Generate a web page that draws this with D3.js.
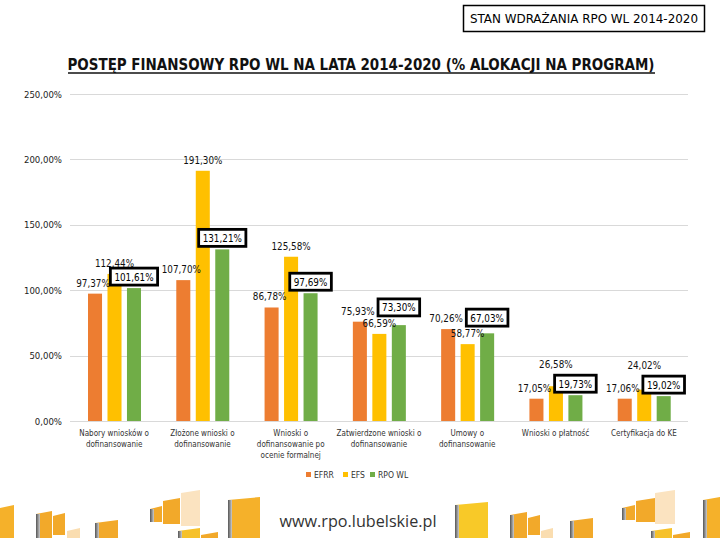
<!DOCTYPE html>
<html><head><meta charset="utf-8">
<script src="https://cdn.jsdelivr.net/npm/d3@7"></script>
<style>
body{margin:0;background:#fff;}
svg{display:block;}
</style></head>
<body>
<svg id="c" width="720" height="540"></svg>
<script>
const categories = [
  ["Nabory wniosków o","dofinansowanie"],
  ["Złożone wnioski o","dofinansowanie"],
  ["Wnioski o","dofinansowanie po","ocenie formalnej"],
  ["Zatwierdzone wnioski o","dofinansowanie"],
  ["Umowy o","dofinansowanie"],
  ["Wnioski o płatność"],
  ["Certyfikacja do KE"]
];
const seriesNames = ["EFRR","EFS","RPO WL"];
const efrr  = [97.37, 107.70, 86.78, 75.93, 70.26, 17.05, 17.06];
const efs   = [112.44, 191.30, 125.58, 66.59, 58.77, 26.58, 24.02];
const rpowl = [101.61, 131.21, 97.69, 73.30, 67.03, 19.73, 19.02];
const yTicks = [0, 50, 100, 150, 200, 250];
const colors = ["#ED7D31","#FFC000","#70AD47"];

const FONT = "'Liberation Sans Narrow','DejaVu Sans Condensed','Liberation Sans',sans-serif";
const svg = d3.select("#c");
const fmt = v => v.toFixed(2).replace(".", ",") + "%";

// header box
svg.append("rect").attr("x",463.5).attr("y",5.5).attr("width",241).attr("height",26)
  .attr("fill","#fff").attr("stroke","#000").attr("stroke-width",1.5);
svg.append("text").attr("x",584).attr("y",23).attr("text-anchor","middle")
  .attr("font-family",FONT).attr("font-size",13).attr("fill","#000")
  .attr("textLength",228).attr("lengthAdjust","spacingAndGlyphs")
  .text("STAN WDRAŻANIA RPO WL 2014-2020");

// title
svg.append("text").attr("x",361).attr("y",70).attr("text-anchor","middle")
  .attr("font-family",FONT).attr("font-size",16).attr("font-weight","bold").attr("fill","#111")
  .attr("textLength",587).attr("lengthAdjust","spacingAndGlyphs")
  .text("POSTĘP FINANSOWY RPO WL NA LATA 2014-2020 (% ALOKACJI NA PROGRAM)");
svg.append("line").attr("x1",68).attr("x2",655).attr("y1",73).attr("y2",73)
  .attr("stroke","#111").attr("stroke-width",1.3);

// scales
const y = d3.scaleLinear().domain([0,250]).range([421,94]);
const x0 = d3.scaleBand().domain(d3.range(categories.length)).range([70,688]).padding(0);
const x1 = d3.scaleBand().domain(seriesNames).range([18,71]).paddingInner(0.28).paddingOuter(0);

// grid
const yAxis = d3.axisLeft(y).tickValues(yTicks).tickSize(0).tickPadding(0)
  .tickFormat(d => d.toFixed(2).replace(".", ",") + "%");
const gy = svg.append("g").attr("transform","translate(62,0)").call(yAxis);
gy.select(".domain").remove();
gy.selectAll("text").attr("font-family",FONT).attr("font-size",9.5).attr("fill","#222");
svg.append("g").selectAll("line").data(yTicks).join("line")
  .attr("x1",70).attr("x2",688).attr("y1",d=>Math.round(y(d))+0.5).attr("y2",d=>Math.round(y(d))+0.5)
  .attr("stroke","#d9d9d9").attr("stroke-width",1);

// bars
const series = [efrr, efs, rpowl];
const groups = svg.append("g");
series.forEach((vals, si) => {
  groups.append("g").selectAll("rect").data(vals).join("rect")
    .attr("x",(d,i)=>x0(i)+x1(seriesNames[si]))
    .attr("y",d=>y(d)).attr("width",x1.bandwidth()).attr("height",d=>y(0)-y(d))
    .attr("fill",colors[si]);
});

// category labels
const cat = svg.append("g");
categories.forEach((lines,i)=>{
  const t = cat.append("text").attr("x",x0(i)+x0.bandwidth()/2).attr("y",436)
    .attr("text-anchor","middle").attr("font-family",FONT).attr("font-size",8).attr("fill","#333");
  lines.forEach((l,k)=>t.append("tspan").attr("x",x0(i)+x0.bandwidth()/2).attr("dy",k?11:0).text(l));
});

// data labels
const lab = svg.append("g").attr("font-family",FONT).attr("font-size",9.8).attr("fill","#111");
const measure = (s) => { const t = lab.append("text").text(s); const w = t.node().getComputedTextLength(); t.remove(); return w; };
categories.forEach((c,i)=>{
  const cx = k => x0(i)+x1(seriesNames[k])+x1.bandwidth()/2;
  // EFRR
  lab.append("text").attr("x",cx(0)-2).attr("y",y(efrr[i])-7).attr("text-anchor","middle").text(fmt(efrr[i]));
  // box for RPO WL
  const bt = fmt(rpowl[i]); const bw = measure(bt)+8, bh = 17;
  let bBottom = y(rpowl[i]) - 3;
  let efsBase = y(efs[i]) - 7;
  const ew = measure(fmt(efs[i]));
  const exL = cx(1)-ew/2, exR = cx(1)+ew/2;
  const bxL = cx(2)-bw/2, bxR = cx(2)+bw/2;
  const xOver = exR > bxL && exL < bxR;
  const yOver = (efsBase > bBottom - bh) && (efsBase - 9 < bBottom);
  if (xOver && yOver) {
    if (efs[i] > rpowl[i]) efsBase = bBottom - bh - 7;
    else bBottom = efsBase - 11;
  }
  lab.append("text").attr("x",cx(1)).attr("y",efsBase).attr("text-anchor","middle").text(fmt(efs[i]));
  lab.append("rect").attr("x",bxL).attr("y",bBottom-bh).attr("width",bw).attr("height",bh)
    .attr("fill","#fff").attr("stroke","#000").attr("stroke-width",2.8);
  lab.append("text").attr("x",cx(2)).attr("y",bBottom-4.5).attr("text-anchor","middle")
    .attr("fill","#000").text(bt);
});

// legend
const leg = svg.append("g").attr("font-family",FONT).attr("font-size",8.5).attr("fill","#333");
const legX = [306, 343, 370];
seriesNames.forEach((n,k)=>{
  leg.append("rect").attr("x",legX[k]).attr("y",472).attr("width",5).attr("height",5).attr("fill",colors[k]);
  leg.append("text").attr("x",legX[k]+8).attr("y",478).text(n);
});

// footer decoration
const defs = svg.append("defs");
const gr = defs.append("linearGradient").attr("id","edge").attr("x1","0").attr("x2","1");
gr.append("stop").attr("offset","0").attr("stop-color","#555");
gr.append("stop").attr("offset","1").attr("stop-color","#ccc");
const deco = [
  [0,505,14,538,"#F5B12A",0],
  [36,511,52,538,"#F2A92A",1],[53,513,65,535,"#F2A92A",0],[67,528,80,538,"#FADDB0",0],
  [95,520,118,538,"#F2A92A",1],
  [150,506,162,522,"#F2A92A",1],[163,498,180,524,"#F2A92A",0],[181,490,200,526,"#FBE3C0",0],
  [178,528,200,538,"#F6C12A",1],[201,532,218,538,"#F2A92A",0],
  [228,497,260,538,"#F5B12A",1],
  [455,502,488,538,"#F8C928",1],
  [510,512,527,538,"#F2A92A",1],[528,515,540,535,"#F2A92A",0],[541,528,553,538,"#FADDB0",0],
  [570,518,593,538,"#F2A92A",1],
  [622,505,635,520,"#F2A92A",1],[636,498,655,522,"#F2A92A",0],[655,490,675,524,"#FBE3C0",0],
  [651,528,672,538,"#F6C12A",1],[673,532,690,538,"#F2A92A",0],
  [703,497,720,538,"#F5B12A",1]
];
const fd = svg.append("g");
deco.forEach(([a,b,c,d,col,e])=>{
  fd.append("polygon").attr("points",`${a},${b+3} ${c},${b} ${c},${d} ${a},${d}`).attr("fill",col);
  if(e) fd.append("rect").attr("x",a).attr("y",b+3).attr("width",4).attr("height",d-b-3).attr("fill","url(#edge)");
});
svg.append("text").attr("x",358).attr("y",527).attr("text-anchor","middle")
  .attr("font-family","'Open Sans','DejaVu Sans',sans-serif").attr("font-size",17).attr("fill","#333")
  .attr("textLength",157).attr("lengthAdjust","spacingAndGlyphs")
  .text("www.rpo.lubelskie.pl");
</script>
</body></html>
